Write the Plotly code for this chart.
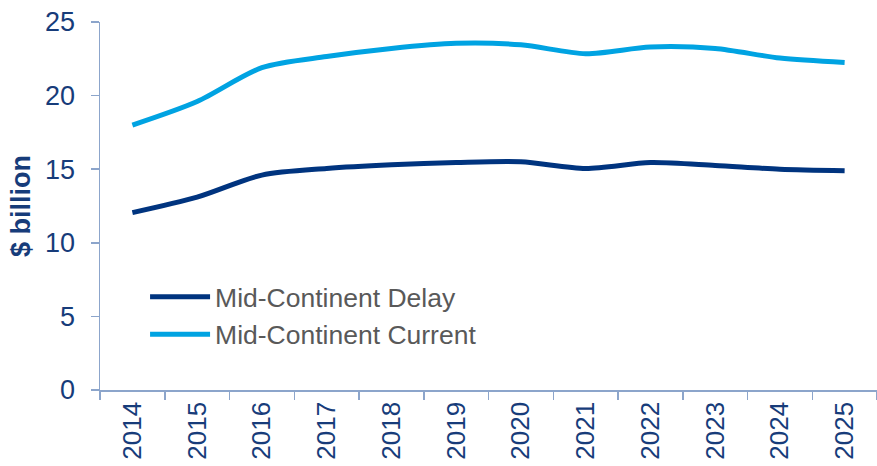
import plotly.graph_objects as go

years = ["2014", "2015", "2016", "2017", "2018", "2019", "2020", "2021", "2022", "2023", "2024", "2025"]
delay = [12.05, 13.1, 14.6, 15.05, 15.3, 15.45, 15.5, 15.05, 15.45, 15.25, 15.0, 14.9]
current = [18.0, 19.6, 21.9, 22.65, 23.2, 23.55, 23.45, 22.85, 23.3, 23.2, 22.55, 22.25]

DARK = "#00347F"
LIGHT = "#00A3E2"
NAVY = "#173C7A"
AXIS = "#8CA5CB"
FONT = "Liberation Sans, Arial, sans-serif"

fig = go.Figure()
fig.add_trace(go.Scatter(x=years, y=delay, name="Mid-Continent Delay", mode="lines",
                         line=dict(color=DARK, width=5, shape="spline", smoothing=0.8)))
fig.add_trace(go.Scatter(x=years, y=current, name="Mid-Continent Current", mode="lines",
                         line=dict(color=LIGHT, width=5, shape="spline", smoothing=0.8)))

fig.update_layout(
    width=877, height=466,
    margin=dict(l=100, r=0, t=22, b=76),
    paper_bgcolor="white", plot_bgcolor="white",
    font=dict(family=FONT, size=26, color=NAVY),
    showlegend=True,
    legend=dict(x=0.058, y=0.318, xanchor="left", yanchor="top",
                font=dict(family=FONT, size=26.5, color="#595959"),
                bgcolor="rgba(0,0,0,0)", itemwidth=60, tracegroupgap=0),
    xaxis=dict(type="category", range=[-0.5, 11.5], tickson="boundaries",
               showline=True, linecolor=AXIS, linewidth=1.5,
               ticks="outside", ticklen=8, tickcolor=AXIS, tickwidth=1.5,
               tickangle=-90, tickfont=dict(family=FONT, size=26, color=NAVY),
               showgrid=False, zeroline=False, automargin=False, fixedrange=True),
    yaxis=dict(range=[0, 25], dtick=5, showline=True, linecolor=AXIS, linewidth=1.5,
               ticks="outside", ticklen=8, tickcolor=AXIS, tickwidth=1.5,
               tickfont=dict(family=FONT, size=27, color=NAVY), ticklabelstandoff=10,
               showgrid=False, zeroline=False, automargin=False, fixedrange=True,
               title=dict(text="<b>$ billion</b>", font=dict(family=FONT, size=27, color=NAVY), standoff=6)),
)

fig.write_html("out.html", config={"displayModeBar": False, "staticPlot": True},
               post_script="document.body.style.margin='0';document.body.style.padding='0';")
